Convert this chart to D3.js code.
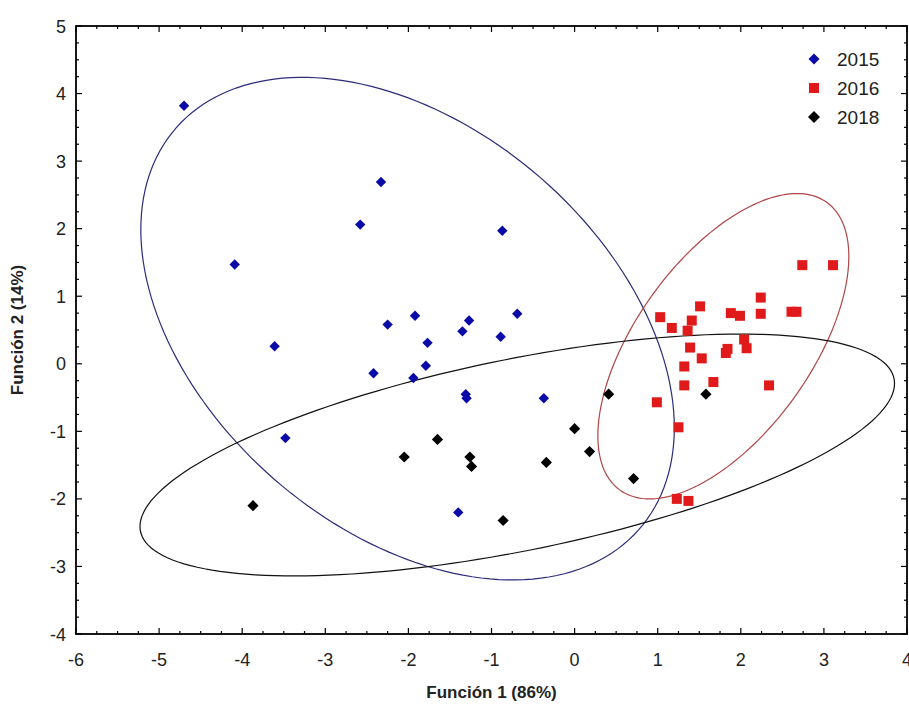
<!DOCTYPE html>
<html><head><meta charset="utf-8">
<script src="https://cdn.jsdelivr.net/npm/d3@7"></script>
<style>body{margin:0;background:#fff}svg{display:block}</style>
</head><body><svg id="c" width="909" height="711"></svg>
<script>
// ---- data ----
const xTicks = [-6,-5,-4,-3,-2,-1,0,1,2,3,4];
const yTicks = [-4,-3,-2,-1,0,1,2,3,4,5];
const seriesNames = ["2015","2016","2018"];
const x2015 = [-4.70,-2.33,-2.58,-0.87,-4.09,-3.61,-1.92,-2.25,-1.27,-0.69,-1.35,-0.89,-1.77,-2.42,-1.79,-1.94,-1.31,-1.30,-0.37,-3.48,-1.40];
const y2015 = [3.82,2.69,2.06,1.97,1.47,0.26,0.71,0.58,0.64,0.74,0.48,0.40,0.31,-0.14,-0.03,-0.21,-0.45,-0.51,-0.51,-1.10,-2.20];
const x2016 = [2.74,3.11,2.24,1.51,1.88,1.99,2.24,2.61,2.67,1.03,1.17,1.41,1.36,2.04,2.07,1.39,1.84,1.82,1.53,1.32,1.32,1.67,2.34,0.99,1.25,1.23,1.37];
const y2016 = [1.46,1.46,0.98,0.85,0.75,0.71,0.74,0.77,0.77,0.69,0.53,0.64,0.49,0.36,0.23,0.24,0.22,0.16,0.08,-0.04,-0.32,-0.27,-0.32,-0.57,-0.94,-2.00,-2.03];
const x2018 = [0.41,1.58,-1.65,-2.05,-1.26,-1.24,0.00,-0.34,0.18,0.71,-0.86,-3.87];
const y2018 = [-0.45,-0.45,-1.12,-1.38,-1.38,-1.52,-0.96,-1.46,-1.30,-1.70,-2.32,-2.10];
// ellipse parameters: center, spread in x, spread in y, correlation
const ellCenterX = [-2.01, 1.79, -0.69];
const ellCenterY = [0.52, 0.26, -1.35];
const ellSx = [3.21, 1.51, 4.54];
const ellSy = [3.72, 2.26, 1.79];
const ellR = [-0.394, 0.587, 0.591];

// ---- layout ----
const L=76,R=907,T=26,B=634;
const svg=d3.select("#c");
const x=d3.scaleLinear().domain([-6,4]).range([L,R]);
const y=d3.scaleLinear().domain([-4,5]).range([B,T]);
const markerColors=["#0a0aa8","#e01a1a","#000"];
const ellColors=["#2b2b7a","#b04545","#111"];

svg.append("clipPath").attr("id","pc").append("rect")
  .attr("x",L).attr("y",T).attr("width",R-L).attr("height",B-T);

// ellipses
const line=d3.line().x(d=>x(d[0])).y(d=>y(d[1]));
for(let k=0;k<3;k++){
  const pts=d3.range(0,361,2).map(a=>{
    const t=a*Math.PI/180;
    return [ellCenterX[k]+ellSx[k]*Math.cos(t),
            ellCenterY[k]+ellSy[k]*(ellR[k]*Math.cos(t)+Math.sqrt(1-ellR[k]*ellR[k])*Math.sin(t))];
  });
  svg.append("path").attr("d",line(pts)+"Z").attr("fill","none")
    .attr("stroke",ellColors[k]).attr("stroke-width",1.2).attr("clip-path","url(#pc)");
}

// points
function drawPts(xs,ys,k,shape){
  const g=svg.append("g");
  xs.forEach((v,i)=>{
    if(shape==="sq"){
      g.append("rect").attr("x",x(v)-5).attr("y",y(ys[i])-5).attr("width",10).attr("height",10).attr("fill",markerColors[k]);
    } else {
      const s = k===2?5.6:5.2;
      g.append("path").attr("transform",`translate(${x(v)},${y(ys[i])})`)
        .attr("d",`M0,${-s}L${s},0L0,${s}L${-s},0Z`).attr("fill",markerColors[k]);
    }
  });
}
drawPts(x2015,y2015,0,"d");
drawPts(x2016,y2016,1,"sq");
drawPts(x2018,y2018,2,"d");

// axes with inward ticks on all four sides
const minorX=d3.range(-6,4.001,0.25), minorY=d3.range(-4,5.001,0.25);
const tg=svg.append("g").attr("stroke","#000").attr("stroke-width",1.2);
minorX.forEach(v=>{
  const major=Math.abs(v-Math.round(v))<1e-6, len=major?6:3;
  tg.append("line").attr("x1",x(v)).attr("x2",x(v)).attr("y1",B).attr("y2",B-len);
  tg.append("line").attr("x1",x(v)).attr("x2",x(v)).attr("y1",T).attr("y2",T+len);
});
minorY.forEach(v=>{
  const major=Math.abs(v-Math.round(v))<1e-6, len=major?6:3;
  tg.append("line").attr("y1",y(v)).attr("y2",y(v)).attr("x1",L).attr("x2",L+len);
  tg.append("line").attr("y1",y(v)).attr("y2",y(v)).attr("x1",R).attr("x2",R-len);
});
svg.append("rect").attr("x",L).attr("y",T).attr("width",R-L).attr("height",B-T)
  .attr("fill","none").attr("stroke","#000").attr("stroke-width",1.8);

const font="Liberation Sans, Arial, sans-serif";
svg.append("g").selectAll("text").data(xTicks).join("text")
  .attr("x",d=>x(d)).attr("y",666).attr("text-anchor","middle")
  .attr("font-family",font).attr("font-size",18).attr("fill","#222")
  .text(d=>d<0?"-"+Math.abs(d):d);
svg.append("g").selectAll("text").data(yTicks).join("text")
  .attr("x",66).attr("y",d=>y(d)+6.5).attr("text-anchor","end")
  .attr("font-family",font).attr("font-size",18).attr("fill","#222")
  .text(d=>d<0?"-"+Math.abs(d):d);

svg.append("text").attr("x",(L+R)/2).attr("y",698).attr("text-anchor","middle")
  .attr("font-family",font).attr("font-weight","bold").attr("font-size",17).attr("fill","#222")
  .text("Función 1 (86%)");
svg.append("text").attr("transform",`translate(23,${(T+B)/2}) rotate(-90)`).attr("text-anchor","middle")
  .attr("font-family",font).attr("font-weight","bold").attr("font-size",17).attr("fill","#222")
  .text("Función 2 (14%)");

// legend
const lg=svg.append("g");
seriesNames.forEach((n,i)=>{
  const cy=59+i*29, cx=814;
  if(i===1) lg.append("rect").attr("x",cx-5).attr("y",cy-5).attr("width",10).attr("height",10).attr("fill",markerColors[i]);
  else { const s=i===2?6:5.5; lg.append("path").attr("d",`M${cx},${cy-s}L${cx+s},${cy}L${cx},${cy+s}L${cx-s},${cy}Z`).attr("fill",markerColors[i]); }
  lg.append("text").attr("x",837).attr("y",cy+7).attr("font-family",font).attr("font-size",19).attr("fill","#222").text(n);
});
</script></body></html>
